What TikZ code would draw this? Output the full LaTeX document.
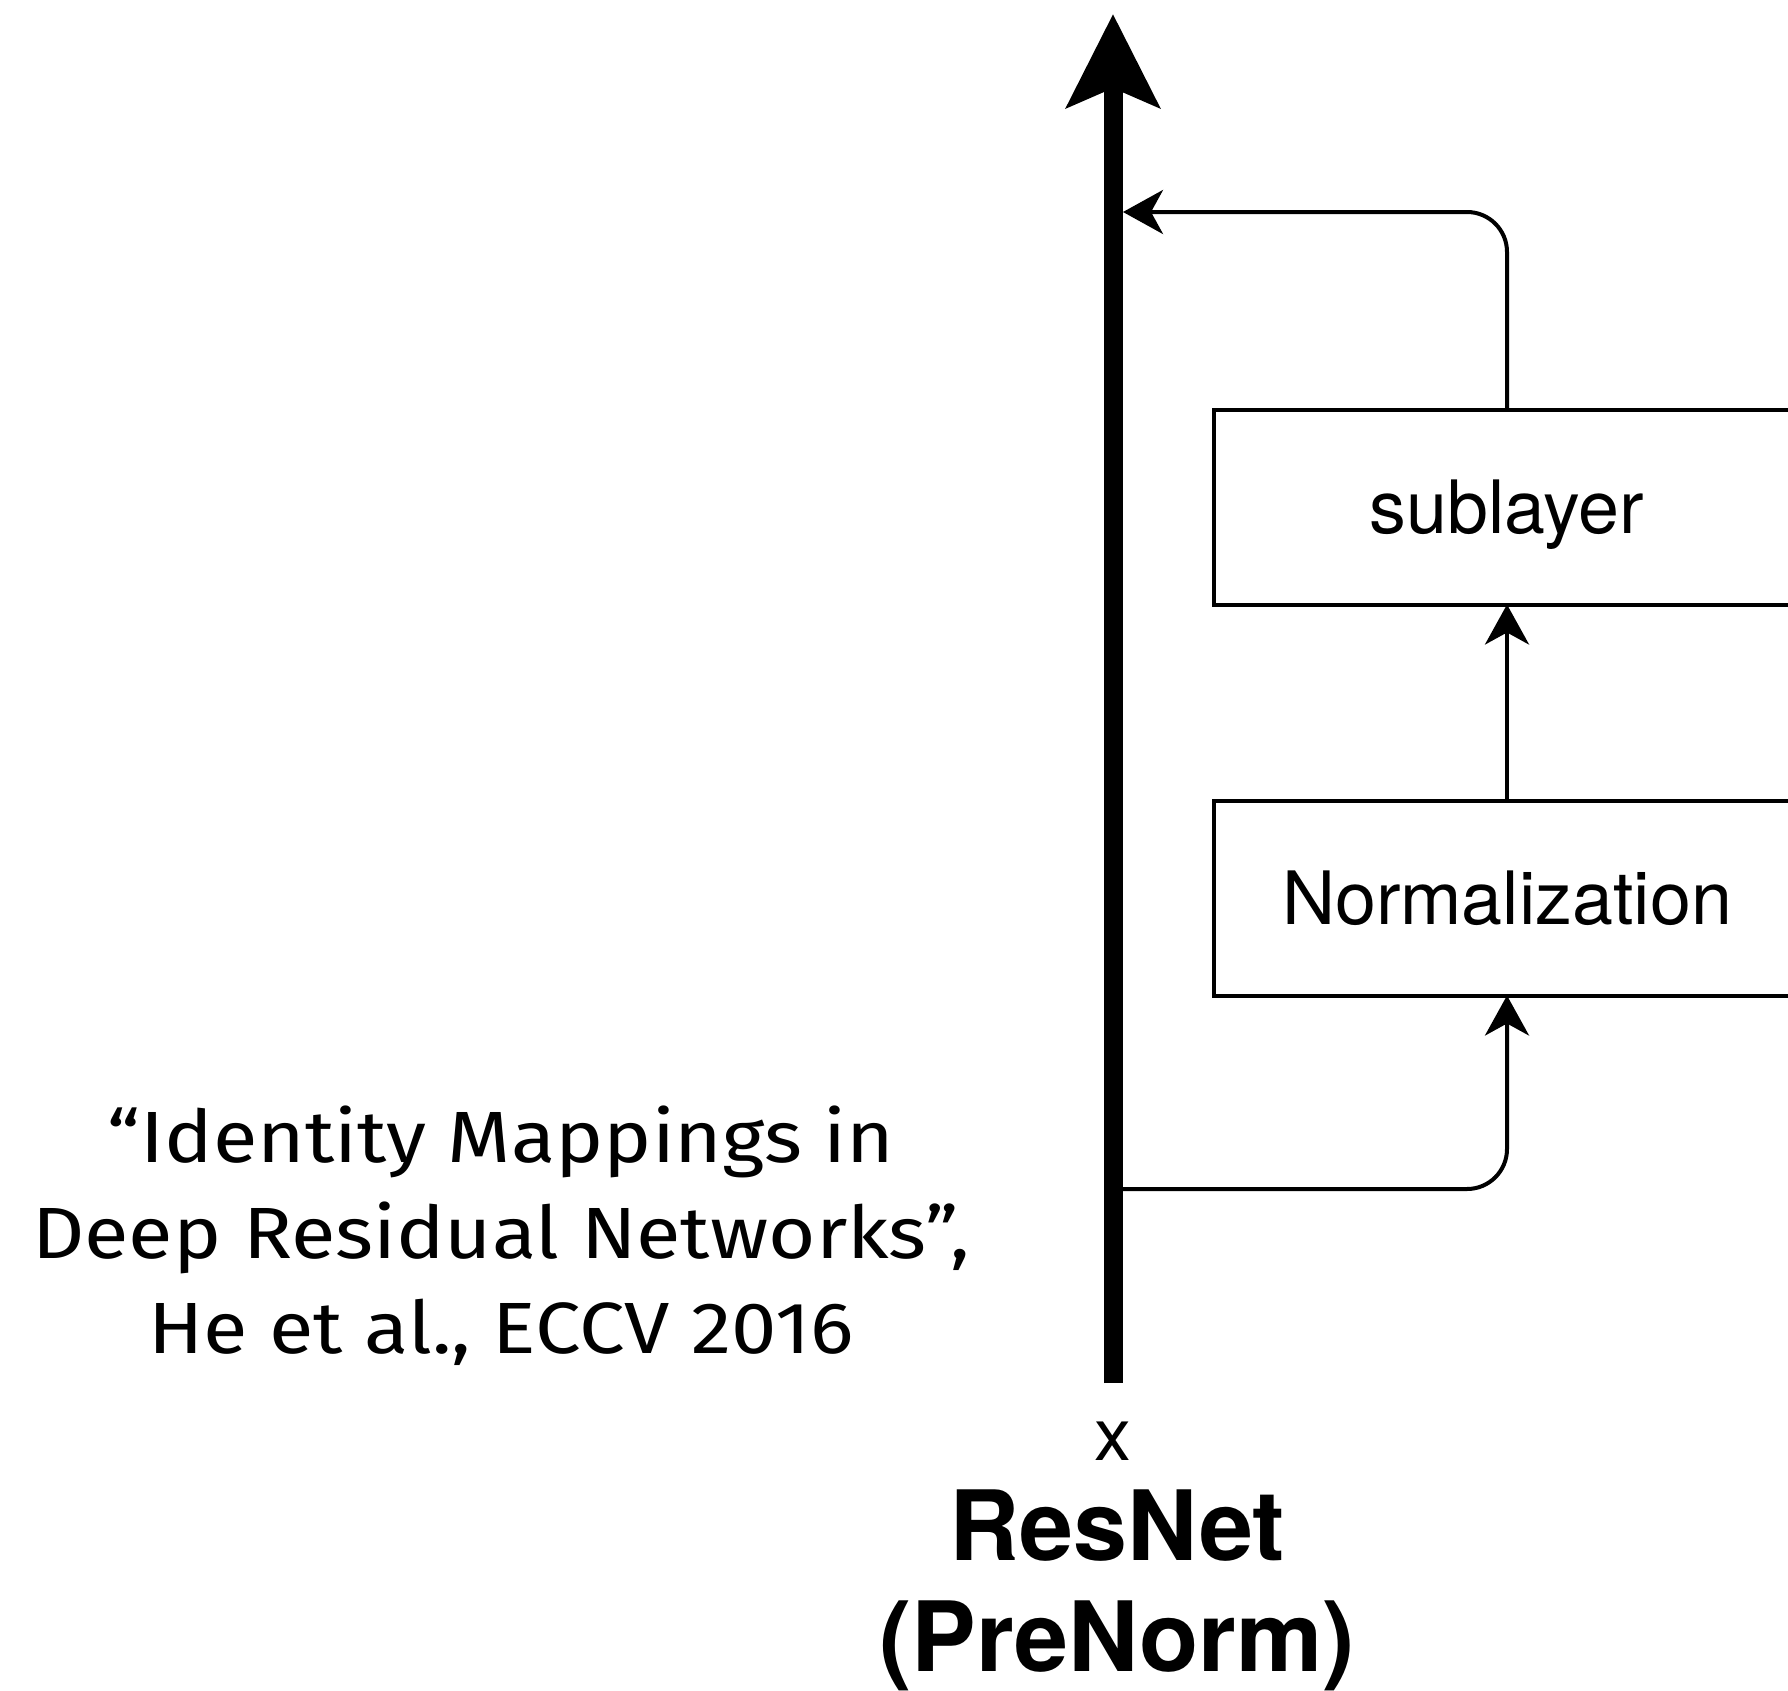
\documentclass[tikz,border=0pt]{standalone}
\usepackage{fontspec}
\setmainfont{TeX Gyre Heros}
\newfontfamily\citefont[FakeStretch=1.12]{Fira Sans}
\usetikzlibrary{arrows.meta}

\tikzset{
  blockbox/.style={draw, line width=2pt, minimum width=293pt, minimum height=97.5pt,
    inner sep=0pt, outer sep=0pt, text height=26pt, text depth=0pt,
    font=\fontsize{36.8pt}{40pt}\selectfont},
  link/.style={line width=2pt, rounded corners=20pt,
    -{Stealth[length=20pt, width=22pt, inset=6pt]}},
  mainpath/.style={line width=9.5pt,
    -{Stealth[length=46.5pt, width=46pt, inset=9.5pt]}},
  lbl/.style={inner sep=0pt, anchor=base},
  citetext/.style={inner sep=0pt, anchor=base, font=\citefont\fontsize{36.3pt}{47.5pt}\selectfont}
}

\begin{document}
\begin{tikzpicture}[x=0.5pt, y=-0.5pt]
  \useasboundingbox (0,0) rectangle (1788,1691);
  \clip (0,0) rectangle (1788,1691);

  % residual branch blocks
  \node[blockbox] (sub)  at (1507,507) {sublayer};
  \node[blockbox] (norm) at (1507,898) {Normalization};

  % identity path end points and branch joints
  \coordinate (xbot)  at (1113,1383);
  \coordinate (xtop)  at (1113,14);
  \coordinate (split) at (1113,1189);
  \coordinate (merge) at (1123,212);

  % branch: identity -> norm -> sublayer -> back to identity
  \draw[link] (split) -| (norm.south);
  \draw[link] (norm.north) -- (sub.south);
  \draw[link] (sub.north) |- (merge);

  % identity path
  \draw[mainpath] (xbot) -- (xtop);

  % labels
  \node[lbl, font=\fontsize{36.8pt}{40pt}\selectfont] (xin) at (1113,1460) {x};
  \node[lbl, font=\bfseries\fontsize{48.5pt}{55pt}\selectfont] (title1) at (1117,1560) {ResNet};
  \node[lbl, font=\bfseries\fontsize{48.5pt}{55pt}\selectfont] (title2) at (1117,1671) {(PreNorm)};

  % reference
  \node[citetext] (cite1) at (501,1162) {“Identity Mappings in};
  \node[citetext] (cite2) at (501,1258) {Deep Residual Networks”,};
  \node[citetext] (cite3) at (501,1353) {He et al., ECCV 2016};
\end{tikzpicture}
\end{document}
